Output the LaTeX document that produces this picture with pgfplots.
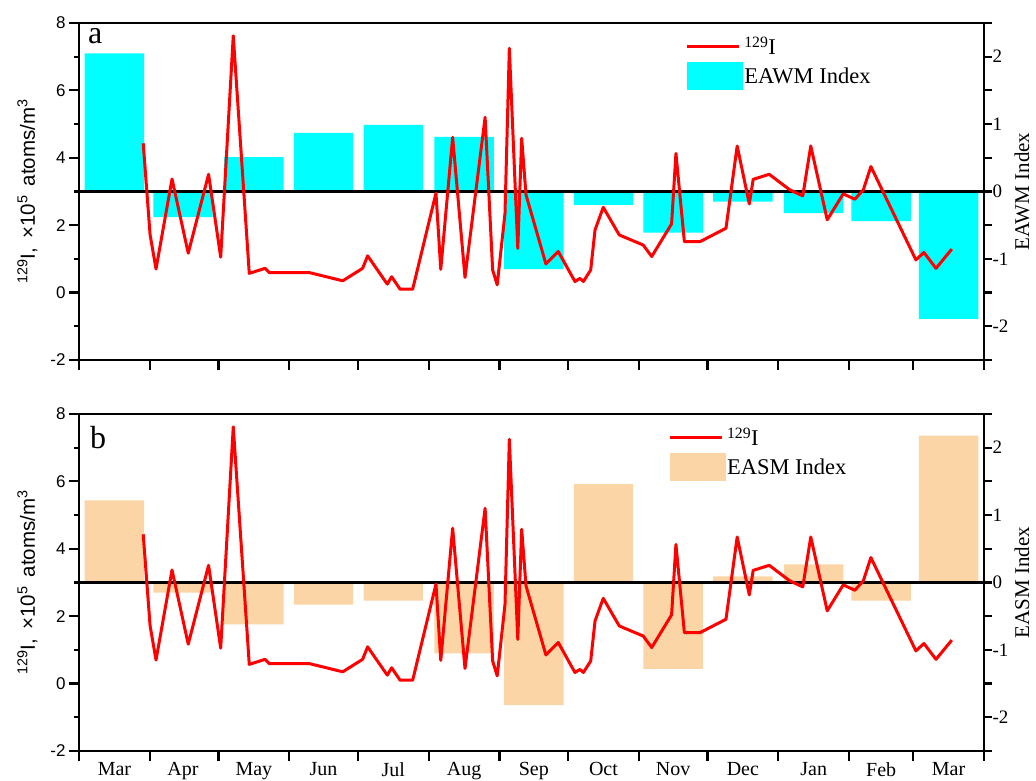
\documentclass[border=0pt]{standalone}
\usepackage{pgfplots}
\pgfplotsset{compat=1.18}
\usepackage{pgfplotstable}
\usepackage{fontspec}
\setmainfont{Liberation Serif}
\newfontfamily\arialfont{Liberation Sans}
\definecolor{peach}{RGB}{252,213,166}
\definecolor{aqua}{RGB}{0,255,255}

\pgfplotstableread{
x y
28.1 4.43
31.1 1.72
33.7 0.70
40.7 3.37
47.8 1.17
56.7 3.51
62.0 1.05
67.5 7.62
74.5 0.57
81.4 0.72
83.3 0.59
101.0 0.59
115.4 0.35
124.1 0.72
126.3 1.09
134.9 0.25
136.8 0.47
140.5 0.10
146.0 0.10
156.2 2.95
158.3 0.69
163.5 4.61
168.9 0.45
177.7 5.20
181.0 0.67
183.0 0.23
186.4 2.35
188.3 7.25
192.0 1.31
193.7 4.58
195.6 2.90
204.3 0.85
209.7 1.22
217.0 0.33
219.2 0.42
220.7 0.33
223.9 0.67
225.8 1.86
229.4 2.53
236.4 1.71
246.9 1.41
250.6 1.07
259.3 2.04
261.2 4.13
264.9 1.51
271.7 1.51
283.1 1.91
288.0 4.35
293.3 2.63
295.0 3.36
302.0 3.51
311.0 3.05
316.7 2.87
320.2 4.35
327.4 2.16
334.4 2.93
339.5 2.77
343.2 3.05
346.5 3.74
366.2 0.97
369.7 1.19
375.0 0.72
381.9 1.29
}\iodine

\pgfplotstableread{
x y
15.5 2.05
45.5 -0.38
76.5 0.51
107.0 0.87
137.5 0.99
168.5 0.81
199.0 -1.15
229.5 -0.20
260.0 -0.61
290.5 -0.15
321.5 -0.32
351.0 -0.44
380.5 -1.89
}\eawm

\pgfplotstableread{
x y
15.5 1.22
45.5 -0.15
76.5 -0.62
107.0 -0.33
137.5 -0.27
168.5 -1.05
199.0 -1.82
229.5 1.46
260.0 -1.28
290.5 0.09
321.5 0.27
351.0 -0.27
380.5 2.18
}\easm

\pgfplotsset{
  base/.style={scale only axis, width=905pt, height=337pt, xmin=0, xmax=396,
    tick align=outside, major tick length=10pt, minor tick length=5pt,
    separate axis lines,
    axis line style={line width=2.8pt},
    every tick/.append style={black, line width=2.2pt},
    major tick style={black, line width=2.2pt},
    minor tick style={black, line width=2.2pt}},
  idxaxis/.style={base, axis x line*=bottom, axis y line*=right,
    ymin=-2.5, ymax=2.5,
    major tick length=8pt, minor tick length=8pt,
    ytick={-2,-1,0,1,2}, yticklabels={-2,-1,0,1,2},
    minor ytick={-2.5,-1.5,-0.5,0.5,1.5,2.5},
    ytick pos=right, yticklabel pos=right,
    yticklabel style={font=\fontsize{19}{19}\selectfont, xshift=-3pt},
    ylabel style={at={(rel axis cs:1.042,0.5)}, anchor=center}},
  ioaxis/.style={base, clip=false,
    ymin=-2, ymax=8, ytick={-2,0,2,4,6,8}, yticklabels={-2,0,2,4,6,8},
    minor ytick={-1,1,3,5,7},
    ytick pos=left, xtick pos=lower,
    xtick={0,31,61,92,122,153,184,214,245,275,306,337,365,396},
    xticklabels={,,,,,,,,,,,,,},
    yticklabel style={font=\arialfont\fontsize{17}{17}\selectfont},
    ylabel={\arialfont\fontsize{20.5}{22}\selectfont\textsuperscript{129}I,\, ×10\textsuperscript{5}\, atoms/m\textsuperscript{3}},
    ylabel style={at={(rel axis cs:-0.057,0.5)}, anchor=center},
    legend style={draw=none, fill=none, font=\fontsize{22.5}{22.5}\selectfont,
      row sep=4pt, inner sep=0pt},
    legend cell align=left},
}

\begin{document}
\begin{tikzpicture}
\useasboundingbox (0pt,0pt) rectangle (1036pt,781pt);

% ---------- panel a ----------
\begin{axis}[idxaxis, at={(79pt,421pt)}, anchor=south west,
  xtick=\empty, ylabel={\fontsize{21}{21}\selectfont EAWM Index}]
\addplot[ybar, bar width=26, bar shift=0pt, fill=aqua, draw=none] table[x=x,y=y] {\eawm};
\draw[line width=2.6pt] (axis cs:0,0) -- (axis cs:396,0);
\end{axis}
\begin{axis}[ioaxis, at={(79pt,421pt)}, anchor=south west,
  legend style={at={(rel axis cs:0.67,0.965)}, anchor=north west}]
\addplot[red, line width=3pt, line join=round,
  legend image code/.code={\draw[red,line width=3pt] (0pt,0pt) -- (52pt,0pt);}]
  table[x=x,y=y] {\iodine};
\addlegendentry{\textsuperscript{129}I}
\addlegendimage{legend image code/.code={\fill[aqua] (0pt,-13pt) rectangle (55pt,14pt);}}
\addlegendentry{EAWM Index}
\draw[line width=2.8pt] (rel axis cs:0,0) rectangle (rel axis cs:1,1);
\node[anchor=north west, inner sep=0pt, font=\fontsize{32}{32}\selectfont] at (rel axis cs:0.01,0.985) {a};
\end{axis}

% ---------- panel b ----------
\begin{axis}[idxaxis, at={(79pt,30pt)}, anchor=south west,
  xtick={15.5,45.5,76.5,107,137.5,168.5,199,229.5,260,290.5,321.5,351,380.5},
  xticklabels={Mar,Apr,May,Jun,Jul,Aug,Sep,Oct,Nov,Dec,Jan,Feb,Mar},
  xtick style={draw=none},
  xticklabel style={font=\fontsize{20}{20}\selectfont},
  ylabel={\fontsize{21}{21}\selectfont EASM Index}]
\addplot[ybar, bar width=26, bar shift=0pt, fill=peach, draw=none] table[x=x,y=y] {\easm};
\draw[line width=2.6pt] (axis cs:0,0) -- (axis cs:396,0);
\end{axis}
\begin{axis}[ioaxis, at={(79pt,30pt)}, anchor=south west,
  legend style={at={(rel axis cs:0.651,0.965)}, anchor=north west}]
\addplot[red, line width=3pt, line join=round,
  legend image code/.code={\draw[red,line width=3pt] (0pt,0pt) -- (52pt,0pt);}]
  table[x=x,y=y] {\iodine};
\addlegendentry{\textsuperscript{129}I}
\addlegendimage{legend image code/.code={\fill[peach] (0pt,-13pt) rectangle (55pt,14pt);}}
\addlegendentry{EASM Index}
\draw[line width=2.8pt] (rel axis cs:0,0) rectangle (rel axis cs:1,1);
\node[anchor=north west, inner sep=0pt, font=\fontsize{32}{32}\selectfont] at (rel axis cs:0.012,0.965) {b};
\end{axis}
\end{tikzpicture}
\end{document}
